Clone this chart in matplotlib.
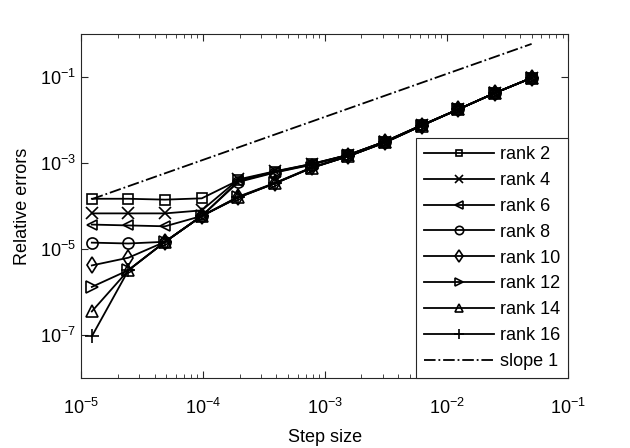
import matplotlib
matplotlib.use("Agg")
import matplotlib.pyplot as plt
import numpy as np
from matplotlib.ticker import LogLocator, NullLocator

plt.rcParams['font.family'] = ['Liberation Sans', 'DejaVu Sans']
plt.rcParams['mathtext.default'] = 'regular'

# step sizes 0.05/2^k, ascending
step = [1.2207e-5, 2.4414e-5, 4.8828e-5, 9.7656e-5, 1.9531e-4, 3.9063e-4,
        7.8125e-4, 1.5625e-3, 3.125e-3, 6.25e-3, 1.25e-2, 2.5e-2, 5e-2]

# log10 of relative errors
rank2 = [-3.83, -3.83, -3.85, -3.82, -3.40, -3.20, -3.02, -2.81, -2.50, -2.12, -1.75, -1.37, -1.02]
rank4 = [-4.17, -4.17, -4.17, -4.10, -3.38, -3.19, -3.02, -2.81, -2.50, -2.12, -1.75, -1.37, -1.02]
rank6 = [-4.43, -4.45, -4.47, -4.23, -3.42, -3.21, -3.03, -2.81, -2.50, -2.12, -1.75, -1.37, -1.02]
rank8 = [-4.85, -4.87, -4.83, -4.23, -3.44, -3.22, -3.04, -2.81, -2.50, -2.12, -1.75, -1.37, -1.02]
rank10 = [-5.38, -5.20, -4.83, -4.23, -3.78, -3.46, -3.10, -2.84, -2.52, -2.13, -1.75, -1.37, -1.02]
rank12 = [-5.88, -5.49, -4.83, -4.23, -3.79, -3.47, -3.11, -2.84, -2.52, -2.13, -1.75, -1.37, -1.02]
rank14 = [-6.45, -5.49, -4.83, -4.23, -3.80, -3.47, -3.11, -2.84, -2.52, -2.13, -1.75, -1.37, -1.02]
rank16 = [-7.03, -5.49, -4.83, -4.23, -3.80, -3.47, -3.11, -2.84, -2.52, -2.13, -1.75, -1.37, -1.02]

labels = ['rank 2', 'rank 4', 'rank 6', 'rank 8', 'rank 10', 'rank 12', 'rank 14', 'rank 16']
series = [rank2, rank4, rank6, rank8, rank10, rank12, rank14, rank16]
markers = ['s', 'x', '<', 'o', 'd', '>', '^', '+']
msizes = [6.5, 8, 7.5, 8, 8, 8, 8, 10]

slope_x = [1.2207e-5, 5e-2]
slope_y = [1.45e-4, 0.59]

fig = plt.figure(figsize=(6.3, 4.48), dpi=100)
ax = fig.add_axes([0.129, 0.156, 0.773, 0.768])

for vals, lab, m, ms in zip(series, labels, markers, msizes):
    ax.plot(step, 10 ** np.array(vals), color='black', lw=1.3, marker=m,
            markersize=ms, markerfacecolor='none', markeredgecolor='black',
            markeredgewidth=1.2, label=lab)
ax.plot(slope_x, slope_y, color='black', lw=1.3, ls='-.', label='slope 1')

ax.set_xscale('log')
ax.set_yscale('log')
ax.set_xlim(1e-5, 1e-1)
ax.set_ylim(1e-8, 1e0)
ax.set_xticks([1e-5, 1e-4, 1e-3, 1e-2, 1e-1])
ax.xaxis.set_minor_locator(LogLocator(base=10, subs=np.arange(2, 10)))
ax.set_yticks([1e-7, 1e-5, 1e-3, 1e-1])
ax.yaxis.set_minor_locator(NullLocator())

ax.tick_params(which='both', direction='in', top=True, right=True,
               labelsize=13, color='#262626')
ax.tick_params(which='major', length=5)
ax.tick_params(which='minor', length=3)
ax.tick_params(axis='x', which='major', pad=14)
ax.tick_params(axis='y', which='major', pad=4)
for s in ax.spines.values():
    s.set_color('#262626')
    s.set_linewidth(0.8)

ax.set_xlabel('Step size', fontsize=13, labelpad=8)
ax.set_ylabel('Relative errors', fontsize=13, labelpad=6)

leg = ax.legend(loc='lower right', borderaxespad=0, fontsize=13,
                fancybox=False, framealpha=1, edgecolor='#262626',
                handlelength=3.9, handletextpad=0.3, labelspacing=0.49,
                markerscale=0.75, borderpad=0.45)
leg.get_frame().set_linewidth(0.8)

fig.savefig('out.png', dpi=100)
